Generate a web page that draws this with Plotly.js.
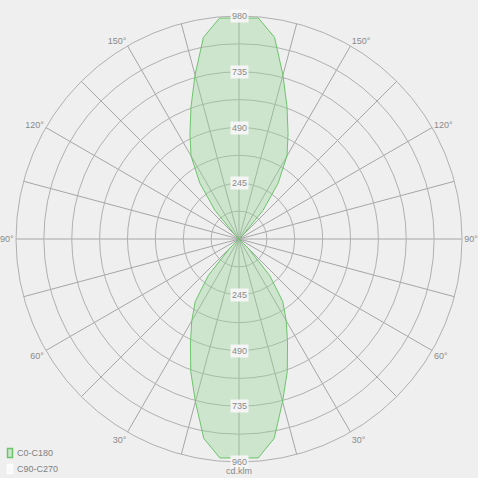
<!DOCTYPE html>
<html><head><meta charset="utf-8">
<script src="https://cdn.plot.ly/plotly-3.0.1.min.js"></script>
<style>html,body{margin:0;padding:0;background:#efefef;}</style>
</head><body><div id="chart" style="width:478px;height:478px;"></div>
<script>
// Gamma angles (0 = down, 180 = up) and luminous intensity (cd/klm), C0-C180 plane
const gammas = [0,5,10,15,20,25,30,35,40,45,50,55,60,65,70,75,80,85,90,95,100,105,110,115,120,125,130,135,140,145,150,155,160,165,170,175,180];
const c0c180 = [962,966,890,740,620,505,415,335,210,60,0,0,0,0,0,0,0,0,0,0,0,0,0,0,0,0,0,20,165,300,422,510,617,746,900,975,970];
const c90c270 = gammas.map(() => 0);
const seriesNames = ['C0-C180','C90-C270'];
const radialTickVals = [245,490,735,980];
const radialTopText = ['245','490','735','980'];
const radialBottomText = ['245','490','735','960'];
const angleLabels = [30,60,90,120,150];
const rMax = 980;
const unitLabel = 'cd.klm';

const W = 478, PAD = 16;
const d0 = PAD / W, d1 = (W - PAD) / W;

function closedPlane(vals){
  const th = [], r = [];
  gammas.forEach((g,i)=>{ th.push(g); r.push(vals[i]); });
  for (let i = gammas.length-2; i >= 1; i--) { th.push(360-gammas[i]); r.push(vals[i]); }
  th.push(gammas[0]); r.push(vals[0]);
  return {th, r};
}

const p1 = closedPlane(c0c180);
const p2 = closedPlane(c90c270);

const colors = [
  {fill:'rgba(150,210,150,0.38)', line:'#6cc46c'},
  {fill:'rgba(255,255,255,0.7)', line:'rgba(255,255,255,0.9)'}
];

const traces = [
  {type:'scatterpolar', mode:'lines', name:seriesNames[0], r:p1.r, theta:p1.th,
   fill:'toself', fillcolor:colors[0].fill, line:{color:colors[0].line, width:1}, showlegend:false},
  {type:'scatterpolar', mode:'lines', name:seriesNames[1], r:p2.r, theta:p2.th,
   fill:'toself', fillcolor:colors[1].fill, line:{color:colors[1].line, width:1}, showlegend:false}
];

// angular grid every 15 deg, labels at 30..150 on both sides
const tickvals = [], ticktext = [];
for (let a = 0; a < 360; a += 15) {
  tickvals.push(a);
  const g = a <= 180 ? a : 360 - a;
  ticktext.push(angleLabels.includes(g) ? g + '°' : '');
}

const circleVals = [];
for (let k = 1; k <= 8; k++) circleVals.push(rMax*k/8);

const half = (d1 - d0) / 2;
const annotations = [];
radialTickVals.forEach((v,i)=>{
  annotations.push({xref:'paper', yref:'paper', x:0.5, y:0.5+half*v/rMax, text:radialTopText[i],
    showarrow:false, font:{size:9, color:'#8a8a8a'}, bgcolor:'rgba(245,245,245,0.95)', borderpad:1, xanchor:'center', yanchor:'middle'});
  annotations.push({xref:'paper', yref:'paper', x:0.5, y:0.5-half*v/rMax, text:radialBottomText[i],
    showarrow:false, font:{size:9, color:'#8a8a8a'}, bgcolor:'rgba(245,245,245,0.95)', borderpad:1, xanchor:'center', yanchor:'middle'});
});
annotations.push({xref:'paper', yref:'paper', x:0.5, y:1-471/W, text:unitLabel, showarrow:false,
  font:{size:9, color:'#8a8a8a'}, xanchor:'center', yanchor:'middle'});

// legend drawn as text + swatch
const shapes = [];
seriesNames.forEach((n,i)=>{
  const yc = 453 + i*16;
  annotations.push({xref:'paper', yref:'paper', x:15/W, y:1-yc/W, text:n, showarrow:false,
    font:{size:9, color:'#808080'}, xanchor:'left', yanchor:'middle'});
  shapes.push({type:'rect', xref:'paper', yref:'paper', x0:7.5/W, x1:12.5/W, y0:1-(yc+4.5)/W, y1:1-(yc-4.5)/W,
    fillcolor:colors[i].fill, line:{color:colors[i].line, width:1.5}});
});

const layout = {
  width:W, height:W,
  margin:{l:0, r:0, t:0, b:0},
  paper_bgcolor:'#efefef', plot_bgcolor:'#efefef',
  font:{family:'Liberation Sans, Arial, sans-serif', size:9, color:'#8a8a8a'},
  showlegend:false,
  polar:{
    bgcolor:'#efefef',
    domain:{x:[d0,d1], y:[d0,d1]},
    radialaxis:{range:[0,rMax], tickvals:circleVals, showticklabels:false, ticks:'', showline:false,
      gridcolor:'#b0b0b0', gridwidth:1, angle:90},
    angularaxis:{rotation:270, direction:'counterclockwise', tickvals:tickvals, ticktext:ticktext,
      ticks:'', showline:true, linecolor:'#b0b0b0', linewidth:1, gridcolor:'#a6a6a6', gridwidth:1,
      tickfont:{size:9, color:'#8a8a8a'}}
  },
  annotations:annotations,
  shapes:shapes
};

Plotly.newPlot('chart', traces, layout, {displayModeBar:false, staticPlot:true});
</script></body></html>
